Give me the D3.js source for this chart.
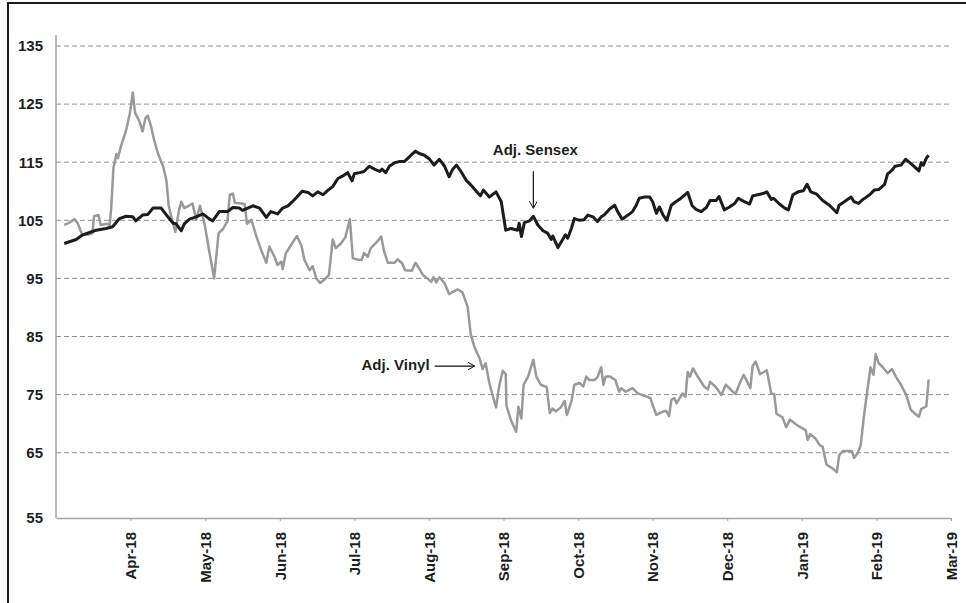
<!DOCTYPE html>
<html lang="en">
<head>
<meta charset="utf-8">
<title>Adj. Sensex vs Adj. Vinyl</title>
<script src="https://cdn.jsdelivr.net/npm/d3@7"></script>
<style>
  body { margin: 0; background: #fff; }
  svg text { font-family: "Liberation Sans", Arial, sans-serif; font-weight: bold; }
</style>
</head>
<body>
<script>
// x axis categories (one tick per month, counted from start of Mar-18)
var monthLabels = ["Apr-18", "May-18", "Jun-18", "Jul-18", "Aug-18", "Sep-18",
                   "Oct-18", "Nov-18", "Dec-18", "Jan-19", "Feb-19", "Mar-19"];
var yTicks = [55, 65, 75, 85, 95, 105, 115, 125, 135];

// Adj. Sensex : time in months since 1 Mar 2018, index value
var sensexT = [0.11,0.27,0.36,0.45,0.54,0.67,0.76,0.85,0.94,1.03,
               1.07,1.16,1.23,1.30,1.41,1.50,1.57,1.61,1.68,1.72,
               1.79,1.88,1.97,2.03,2.10,2.19,2.30,2.37,2.46,2.50,
               2.57,2.64,2.73,2.82,2.88,2.97,3.04,3.11,3.17,3.23,
               3.30,3.38,3.44,3.51,3.58,3.64,3.71,3.78,3.84,3.91,
               3.97,4.00,4.07,4.13,4.20,4.27,4.34,4.37,4.42,4.47,
               4.54,4.60,4.67,4.72,4.76,4.82,4.87,4.94,5.01,5.07,
               5.14,5.21,5.27,5.32,5.37,5.43,5.50,5.56,5.63,5.69,
               5.73,5.81,5.90,5.97,6.03,6.10,6.19,6.21,6.24,6.28,
               6.35,6.40,6.46,6.53,6.59,6.64,6.66,6.73,6.79,6.83,
               6.86,6.91,6.95,7.02,7.08,7.13,7.20,7.26,7.31,7.35,
               7.42,7.49,7.53,7.59,7.67,7.73,7.78,7.82,7.89,7.96,
               8.00,8.05,8.09,8.14,8.19,8.25,8.31,8.38,8.47,8.53,
               8.58,8.65,8.72,8.77,8.85,8.89,8.96,9.03,9.10,9.15,
               9.23,9.30,9.34,9.41,9.48,9.53,9.59,9.62,9.70,9.77,
               9.82,9.88,9.95,10.02,10.07,10.12,10.20,10.28,10.37,10.47,
               10.50,10.57,10.66,10.70,10.76,10.82,10.91,10.97,11.03,11.11,
               11.15,11.20,11.25,11.33,11.39,11.46,11.57,11.60,11.63,11.67,
               11.70];
var sensexV = [101.0,101.7,102.5,102.9,103.3,103.6,103.9,105.3,105.7,105.6,
               104.9,105.9,106.0,107.1,107.1,105.6,104.5,104.4,103.2,104.4,
               105.2,105.6,106.1,105.5,104.9,106.5,106.5,107.2,107.1,106.7,
               107.1,107.5,107.1,105.5,106.5,106.1,107.1,107.5,108.2,109.0,
               110.0,109.8,109.2,109.9,109.4,110.1,110.8,112.2,112.6,113.2,
               111.8,113.0,113.2,113.4,114.3,113.8,113.4,113.8,113.2,114.3,
               114.9,115.1,115.1,115.7,116.2,116.9,116.5,116.2,115.5,114.5,
               115.5,114.3,112.5,113.8,114.5,113.4,111.9,111.1,110.1,109.2,
               110.2,109.0,109.9,108.2,103.3,103.6,103.3,104.5,102.2,104.6,
               104.9,105.7,104.2,103.2,102.8,101.7,102.3,100.3,101.6,102.5,
               101.9,103.6,105.3,105.0,105.1,105.9,105.6,104.8,105.6,105.9,
               106.9,107.6,106.5,105.2,105.9,106.5,107.6,108.8,109.0,109.0,
               108.2,106.2,107.3,105.9,105.0,107.6,108.2,108.8,109.8,107.5,
               106.9,106.5,107.2,108.4,108.4,109.1,106.8,107.3,107.9,108.8,
               108.2,107.8,109.2,109.4,109.6,109.9,108.6,108.8,107.8,107.1,
               106.8,109.4,109.9,110.1,111.2,109.9,109.5,108.4,107.6,106.3,
               107.6,108.2,109.0,108.2,107.9,108.6,109.4,110.2,110.3,111.2,
               113.0,113.5,114.3,114.5,115.5,114.8,113.5,114.9,114.5,115.7,
               116.2];

// Adj. Vinyl
var vinylT = [0.11,0.18,0.25,0.29,0.35,0.43,0.49,0.51,0.57,0.60,
              0.69,0.72,0.74,0.77,0.81,0.83,0.87,0.94,0.99,1.03,
              1.06,1.12,1.16,1.20,1.23,1.27,1.31,1.36,1.41,1.44,
              1.48,1.51,1.54,1.60,1.65,1.68,1.72,1.78,1.83,1.88,
              1.93,1.99,2.06,2.12,2.18,2.24,2.30,2.33,2.37,2.40,
              2.48,2.53,2.56,2.62,2.68,2.75,2.82,2.86,2.93,2.97,
              3.02,3.04,3.08,3.15,3.23,3.29,3.33,3.40,3.44,3.49,
              3.54,3.60,3.66,3.71,3.75,3.82,3.88,3.94,3.98,4.05,
              4.10,4.13,4.18,4.22,4.29,4.36,4.40,4.45,4.54,4.58,
              4.64,4.68,4.77,4.82,4.87,4.92,4.98,5.03,5.06,5.10,
              5.14,5.21,5.27,5.32,5.39,5.45,5.52,5.56,5.61,5.68,
              5.72,5.76,5.81,5.86,5.90,5.94,5.99,6.03,6.04,6.10,
              6.17,6.20,6.24,6.27,6.33,6.40,6.44,6.50,6.58,6.62,
              6.66,6.70,6.77,6.82,6.85,6.91,6.95,7.02,7.07,7.11,
              7.15,7.22,7.26,7.31,7.34,7.37,7.43,7.50,7.55,7.58,
              7.64,7.73,7.80,7.89,7.97,8.00,8.05,8.14,8.18,8.22,
              8.25,8.29,8.32,8.40,8.44,8.47,8.50,8.54,8.60,8.69,
              8.74,8.77,8.84,8.87,8.92,8.98,9.05,9.11,9.17,9.22,
              9.26,9.31,9.34,9.38,9.44,9.53,9.56,9.59,9.63,9.66,
              9.74,9.79,9.84,9.92,9.98,10.05,10.08,10.11,10.18,10.24,
              10.28,10.33,10.41,10.47,10.50,10.55,10.62,10.67,10.70,10.75,
              10.79,10.83,10.88,10.92,10.96,10.99,11.03,11.08,11.15,11.21,
              11.26,11.33,11.40,11.46,11.52,11.57,11.60,11.67,11.70];
var vinylV = [104.2,104.6,105.2,104.5,102.6,102.5,102.8,105.7,105.9,104.2,
              104.4,104.2,107.1,114.0,116.4,115.7,117.7,120.5,123.4,127.0,
              123.5,122.0,120.3,122.6,123.0,121.4,119.1,116.8,115.1,114.1,
              111.9,107.6,105.9,103.0,106.8,108.2,107.1,107.5,107.9,105.1,
              107.5,104.5,99.3,95.0,102.8,103.5,104.9,109.4,109.6,108.0,
              107.9,107.8,104.4,105.1,102.5,99.9,97.7,100.5,98.7,97.3,
              97.9,96.6,99.3,100.7,102.3,100.7,98.2,96.4,97.1,95.0,
              94.2,94.8,95.6,101.7,100.2,101.0,102.1,105.2,98.5,98.2,
              98.2,99.4,98.7,100.2,101.1,102.2,99.6,97.7,97.7,98.3,
              97.6,96.4,96.3,97.7,96.7,95.6,95.0,94.4,95.2,94.3,
              95.2,94.2,92.3,92.7,93.1,92.6,90.1,85.4,83.2,81.2,
              79.4,80.4,77.0,74.6,72.8,76.3,79.1,78.5,73.0,70.6,
              68.6,72.9,70.9,76.7,78.1,81.0,78.1,76.7,76.3,71.8,
              72.6,72.1,72.8,73.9,71.5,73.8,76.7,77.0,76.4,78.1,
              77.5,77.5,78.0,79.7,76.7,78.1,78.1,77.5,75.5,76.1,
              75.5,76.1,75.2,74.8,74.4,73.2,71.5,72.1,72.2,71.3,
              74.1,74.4,73.5,75.2,74.6,78.9,78.1,79.5,78.2,76.4,
              75.9,77.2,76.4,75.9,74.9,76.7,75.8,75.1,77.0,78.4,
              77.4,76.1,79.9,80.7,78.5,79.2,77.2,75.2,75.1,71.7,
              71.1,69.4,70.7,69.9,69.4,68.9,67.2,68.2,67.5,66.3,
              66.0,63.2,62.6,62.0,64.6,65.3,65.3,65.3,64.2,65.0,
              66.3,71.1,75.8,79.7,78.4,82.0,80.4,79.8,78.7,79.4,
              78.1,76.7,74.9,72.4,71.7,71.2,72.5,73.0,77.6];

var w = 966, h = 603;
var plotLeft = 56, plotRight = 951, plotBottom = 518, plotTop = 35;

var svg = d3.select("body")
            .append("svg")
              .attr("width", w)
              .attr("height", h);

// outer frame (only left and top edges fall inside the picture)
svg.append("rect")
   .attr("x", 8).attr("y", 3)
   .attr("width", w).attr("height", h)
   .attr("fill", "none")
   .attr("stroke", "#1a1a1a")
   .attr("stroke-width", 2);

// scales - bottom tick sits a bit lower than the even spacing
var xScale = d3.scaleLinear().domain([0, 12]).range([plotLeft, plotRight]);
var yScale = d3.scaleLinear().domain([55, 65, 135]).range([plotBottom, 452.7, 46]);

// dashed gridlines
svg.append("g")
   .selectAll("line")
   .data(yTicks.slice(1))
   .enter()
   .append("line")
     .attr("x1", plotLeft).attr("x2", plotRight)
     .attr("y1", function(d) { return yScale(d); })
     .attr("y2", function(d) { return yScale(d); })
     .attr("stroke", "#8f8f8f")
     .attr("stroke-width", 1)
     .attr("stroke-dasharray", "5,3");

// y axis
var yAxis = d3.axisLeft(yScale).tickValues(yTicks).tickSize(0).tickPadding(13);
var gy = svg.append("g")
            .attr("transform", "translate(" + plotLeft + ",0)")
            .call(yAxis);
gy.select(".domain").remove();
gy.selectAll("text")
  .style("font-size", "15px")
  .style("font-family", "'Liberation Sans', Arial, sans-serif")
  .attr("fill", "#1e1e1e");

svg.append("line")
   .attr("x1", plotLeft).attr("x2", plotLeft)
   .attr("y1", plotTop).attr("y2", plotBottom)
   .attr("stroke", "#a3a3a3")
   .attr("stroke-width", 1.5);

// x axis
var xAxis = d3.axisBottom(xScale)
              .tickValues(d3.range(1, 13))
              .tickFormat(function(d) { return monthLabels[d - 1]; })
              .tickSize(3)
              .tickSizeOuter(0);
var gx = svg.append("g")
            .attr("transform", "translate(0," + plotBottom + ")")
            .call(xAxis);
gx.select(".domain").attr("stroke", "#a3a3a3").attr("stroke-width", 1.5);
gx.selectAll(".tick line").attr("stroke", "#a3a3a3");
gx.selectAll("text")
  .attr("transform", "rotate(-90)")
  .attr("x", -14)
  .attr("y", 0)
  .attr("dy", "0.35em")
  .attr("text-anchor", "end")
  .attr("fill", "#1e1e1e")
  .style("font-size", "15px")
  .style("font-family", "'Liberation Sans', Arial, sans-serif");

// lines
var line = d3.line()
             .x(function(d) { return xScale(d[0]); })
             .y(function(d) { return yScale(d[1]); });

svg.append("path")
   .datum(d3.zip(vinylT, vinylV))
   .attr("d", line)
   .attr("fill", "none")
   .attr("stroke", "#999999")
   .attr("stroke-width", 2.5)
   .attr("stroke-linejoin", "round");

svg.append("path")
   .datum(d3.zip(sensexT, sensexV))
   .attr("d", line)
   .attr("fill", "none")
   .attr("stroke", "#1c1c1c")
   .attr("stroke-width", 3)
   .attr("stroke-linejoin", "round");

// annotations
svg.append("defs")
   .append("marker")
     .attr("id", "arrow")
     .attr("markerUnits", "userSpaceOnUse")
     .attr("markerWidth", 10).attr("markerHeight", 10)
     .attr("refX", 7).attr("refY", 4)
     .attr("orient", "auto")
   .append("path")
     .attr("d", "M0,0 L7,4 L0,8")
     .attr("fill", "none")
     .attr("stroke", "#111")
     .attr("stroke-width", 1);

var sx = xScale(6.40), sy = yScale(105.7) - 8;
svg.append("line")
   .attr("x1", sx).attr("x2", sx)
   .attr("y1", sy - 37).attr("y2", sy)
   .attr("stroke", "#111").attr("stroke-width", 1.2)
   .attr("marker-end", "url(#arrow)");
svg.append("text")
   .attr("x", sx + 2).attr("y", sy - 53)
   .attr("text-anchor", "middle")
   .attr("fill", "#1e1e1e")
   .style("font-size", "15px")
   .text("Adj. Sensex");

var vx = xScale(5.72) - 8, vy = yScale(79.4) - 3;
svg.append("line")
   .attr("x1", vx - 40).attr("x2", vx)
   .attr("y1", vy).attr("y2", vy)
   .attr("stroke", "#111").attr("stroke-width", 1.2)
   .attr("marker-end", "url(#arrow)");
svg.append("text")
   .attr("x", vx - 45).attr("y", vy + 4)
   .attr("text-anchor", "end")
   .attr("fill", "#1e1e1e")
   .style("font-size", "15px")
   .text("Adj. Vinyl");
</script>
</body>
</html>
